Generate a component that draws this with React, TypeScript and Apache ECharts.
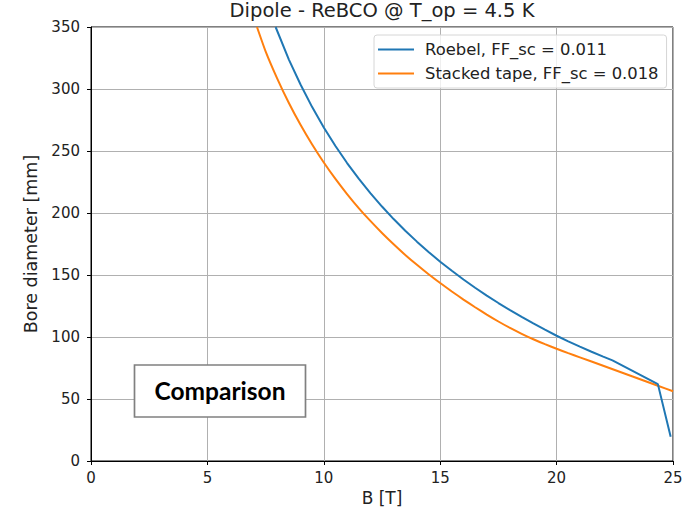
import React, { useEffect, useRef } from "react";
import * as echarts from "echarts";

const roebelB = [7.93, 8.5, 9, 9.5, 10, 10.5, 11, 11.5, 12, 12.5, 13, 13.5, 14, 14.5, 15, 15.5, 16, 16.5, 17, 17.5, 18, 18.5, 19, 19.5, 20, 20.5, 21, 21.5, 22, 22.4, 24.35, 24.9];
const roebelD = [350, 323.7, 303.6, 285.4, 269, 254, 240.3, 227.7, 216, 205.2, 195.1, 185.7, 176.9, 168.6, 160.7, 153.4, 146.4, 139.7, 133.4, 127.4, 121.7, 116.2, 110.9, 105.9, 101, 96.5, 92.2, 88.1, 84.2, 81.2, 62, 19.5];

const stackedB = [7.13, 7.5, 8, 8.5, 9, 9.5, 10, 10.5, 11, 11.5, 12, 12.5, 13, 13.5, 14, 14.5, 15, 15.5, 16, 16.5, 17, 17.5, 18, 18.5, 19, 19.5, 20, 20.5, 21, 22, 23, 24, 24.35, 25];
const stackedD = [350, 330.4, 308.4, 288.7, 271.1, 255.2, 240.7, 227.5, 215.3, 204, 193.6, 183.9, 174.8, 166.2, 158.2, 150.6, 143.5, 136.7, 130.2, 124, 118.1, 112.5, 107.3, 102.6, 98.2, 94.2, 90.5, 87, 83.6, 76.8, 70, 63.1, 60.7, 56.2];

const seriesNames = ["Roebel, FF_sc = 0.011", "Stacked tape, FF_sc = 0.018"];
const seriesColors = ["#1f77b4", "#ff7f0e"];
const titleText = "Dipole - ReBCO @ T_op = 4.5 K";
const xName = "B [T]";
const yName = "Bore diameter [mm]";
const annotation = "Comparison";

const FONT = "DejaVu Sans";
const TXT = "#222222";

export default function App() {
  const ref = useRef<HTMLDivElement>(null);
  useEffect(() => {
    if (!ref.current) return;
    const chart = echarts.init(ref.current, null, { renderer: "svg" });
    const pair = (xs: number[], ys: number[]) => xs.map((x, i) => [x, ys[i]]);
    chart.setOption({
      animation: false,
      backgroundColor: "#ffffff",
      grid: {
        left: 91,
        right: 13,
        top: 27,
        bottom: 54,
        show: true,
        borderColor: "#000",
        borderWidth: 1,
        backgroundColor: "transparent",
      },
      legend: {
        orient: "vertical",
        left: 374,
        top: 35,
        width: 291,
        data: seriesNames,
        icon: "rect",
        itemWidth: 36,
        itemHeight: 2,
        itemGap: 5,
        backgroundColor: "rgba(255,255,255,0.8)",
        borderColor: "#d6d6d6",
        borderWidth: 1,
        borderRadius: 3,
        padding: [5, 8, 5, 4],
        textStyle: { fontFamily: FONT, fontSize: 16.4, lineHeight: 19, color: TXT, padding: [0, 0, 0, 6] },
      },
      xAxis: {
        type: "value",
        min: 0,
        max: 25,
        interval: 5,
        name: xName,
        nameLocation: "middle",
        nameGap: 27,
        nameTextStyle: { fontFamily: FONT, fontSize: 17, color: TXT },
        axisLine: { show: true, lineStyle: { color: "#000", width: 1 } },
        axisTick: { show: true, inside: false, length: 4, lineStyle: { color: "#000" } },
        axisLabel: { fontFamily: FONT, fontSize: 15, color: TXT, margin: 9 },
        splitLine: { show: true, lineStyle: { color: "#b0b0b0", width: 1 } },
      },
      yAxis: {
        type: "value",
        min: 0,
        max: 350,
        interval: 50,
        name: yName,
        nameLocation: "middle",
        nameGap: 51,
        nameTextStyle: { fontFamily: FONT, fontSize: 17.5, color: TXT },
        axisLine: { show: true, lineStyle: { color: "#000", width: 1 } },
        axisTick: { show: true, inside: false, length: 4, lineStyle: { color: "#000" } },
        axisLabel: { fontFamily: FONT, fontSize: 15, color: TXT, margin: 11 },
        splitLine: { show: true, lineStyle: { color: "#b0b0b0", width: 1 } },
      },
      series: [
        {
          name: seriesNames[0],
          type: "line",
          data: pair(roebelB, roebelD),
          showSymbol: false,
          clip: true,
          color: seriesColors[0],
          lineStyle: { color: seriesColors[0], width: 2 },
          z: 3,
        },
        {
          name: seriesNames[1],
          type: "line",
          data: pair(stackedB, stackedD),
          showSymbol: false,
          smooth: 0.2,
          clip: true,
          color: seriesColors[1],
          lineStyle: { color: seriesColors[1], width: 2 },
          z: 2,
        },
      ],
      graphic: [
        {
          type: "text",
          x: 382,
          y: 10.5,
          style: {
            text: titleText,
            fontFamily: FONT,
            fontSize: 19.5,
            fill: TXT,
            align: "center",
            verticalAlign: "middle",
          },
          z: 11,
        },
        {
          type: "rect",
          shape: { x: 134.5, y: 365, width: 171, height: 52 },
          style: { fill: "#ffffff", stroke: "#808080", lineWidth: 1.7 },
          z: 10,
        },
        {
          type: "text",
          x: 220,
          y: 390.5,
          style: {
            text: annotation,
            fontFamily: "Lato",
            fontWeight: "bold",
            fontSize: 24.5,
            fill: "#000",
            align: "center",
            verticalAlign: "middle",
          },
          z: 11,
        },
      ],
    });
    return () => chart.dispose();
  }, []);
  return <div ref={ref} style={{ position: "absolute", left: 0, top: 0, width: 686, height: 515 }} />;
}
